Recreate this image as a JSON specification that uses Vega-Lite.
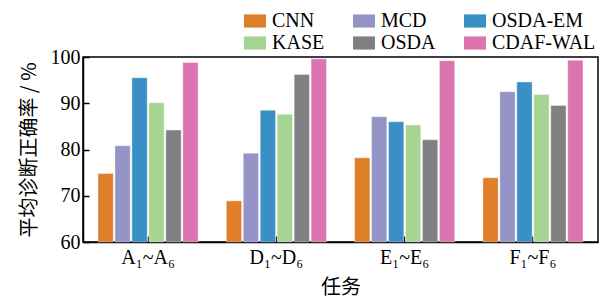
{
  "$schema": "https://vega.github.io/schema/vega-lite/v6.json",
  "width": 515,
  "height": 185,
  "autosize": {"type": "none"},
  "padding": {"left": 83, "top": 57, "right": 7, "bottom": 56},
  "data": {"values": [
    {"task": "A₁~A₆", "method": "CNN", "acc": 74.8},
    {"task": "A₁~A₆", "method": "MCD", "acc": 80.8},
    {"task": "A₁~A₆", "method": "OSDA-EM", "acc": 95.5},
    {"task": "A₁~A₆", "method": "KASE", "acc": 90.1},
    {"task": "A₁~A₆", "method": "OSDA", "acc": 84.2},
    {"task": "A₁~A₆", "method": "CDAF-WAL", "acc": 98.8},
    {"task": "D₁~D₆", "method": "CNN", "acc": 68.9},
    {"task": "D₁~D₆", "method": "MCD", "acc": 79.2},
    {"task": "D₁~D₆", "method": "OSDA-EM", "acc": 88.5},
    {"task": "D₁~D₆", "method": "KASE", "acc": 87.6},
    {"task": "D₁~D₆", "method": "OSDA", "acc": 96.2},
    {"task": "D₁~D₆", "method": "CDAF-WAL", "acc": 99.6},
    {"task": "E₁~E₆", "method": "CNN", "acc": 78.2},
    {"task": "E₁~E₆", "method": "MCD", "acc": 87.1},
    {"task": "E₁~E₆", "method": "OSDA-EM", "acc": 86.0},
    {"task": "E₁~E₆", "method": "KASE", "acc": 85.3},
    {"task": "E₁~E₆", "method": "OSDA", "acc": 82.1},
    {"task": "E₁~E₆", "method": "CDAF-WAL", "acc": 99.2},
    {"task": "F₁~F₆", "method": "CNN", "acc": 73.9},
    {"task": "F₁~F₆", "method": "MCD", "acc": 92.5},
    {"task": "F₁~F₆", "method": "OSDA-EM", "acc": 94.6},
    {"task": "F₁~F₆", "method": "KASE", "acc": 91.9},
    {"task": "F₁~F₆", "method": "OSDA", "acc": 89.5},
    {"task": "F₁~F₆", "method": "CDAF-WAL", "acc": 99.3}
  ]},
  "mark": {"type": "bar", "stroke": "white", "strokeWidth": 0.6, "strokeOpacity": 0.6},
  "encoding": {
    "x": {
      "field": "task", "type": "nominal",
      "sort": ["A₁~A₆", "D₁~D₆", "E₁~E₆", "F₁~F₆"],
      "scale": {"paddingInner": 0.22, "paddingOuter": 0.117},
      "axis": {
        "title": "任务", "titleFont": "Noto Sans CJK SC", "titleFontSize": 20, "titleFontWeight": "normal",
        "titleColor": "black", "titlePadding": 10,
        "labelAngle": 0, "labelFont": "Liberation Serif", "labelFontSize": 20, "labelColor": "black",
        "labelPadding": 11,
        "tickSize": -6, "tickColor": "black", "tickWidth": 1.5,
        "domainColor": "black", "domainWidth": 1.5
      }
    },
    "xOffset": {
      "field": "method", "type": "nominal",
      "sort": ["CNN", "MCD", "OSDA-EM", "KASE", "OSDA", "CDAF-WAL"],
      "scale": {"paddingInner": 0.1}
    },
    "y": {
      "field": "acc", "type": "quantitative",
      "scale": {"domain": [60, 100], "zero": false, "nice": false},
      "axis": {
        "title": "平均诊断正确率 / %", "titleFont": "Noto Sans CJK SC", "titleFontSize": 20, "titleFontWeight": "normal",
        "titleColor": "black", "titlePadding": 11,
        "values": [60, 70, 80, 90, 100], "grid": false,
        "labelFont": "Liberation Serif", "labelFontSize": 20, "labelColor": "black", "labelPadding": 9,
        "tickSize": -6, "tickColor": "black", "tickWidth": 1.5,
        "domainColor": "black", "domainWidth": 1.5
      }
    },
    "y2": {"datum": 60},
    "color": {
      "field": "method", "type": "nominal",
      "scale": {
        "domain": ["CNN", "KASE", "MCD", "OSDA", "OSDA-EM", "CDAF-WAL"],
        "range": ["#e07f2a", "#a6d492", "#9494c6", "#808083", "#3a8fc4", "#dc74b0"]
      },
      "legend": {
        "title": null, "orient": "none", "legendX": 161, "legendY": -47,
        "columns": 3, "columnPadding": 28, "rowPadding": 1,
        "symbolType": "M-1,-0.6H1V0.6H-1Z", "symbolSize": 484, "symbolStrokeWidth": 0, "symbolOpacity": 1,
        "labelFont": "Liberation Serif", "labelFontSize": 20, "labelColor": "black", "labelOffset": 6
      }
    }
  },
  "config": {
    "view": {"stroke": "black", "strokeWidth": 1.5},
    "axis": {"grid": false}
  }
}
